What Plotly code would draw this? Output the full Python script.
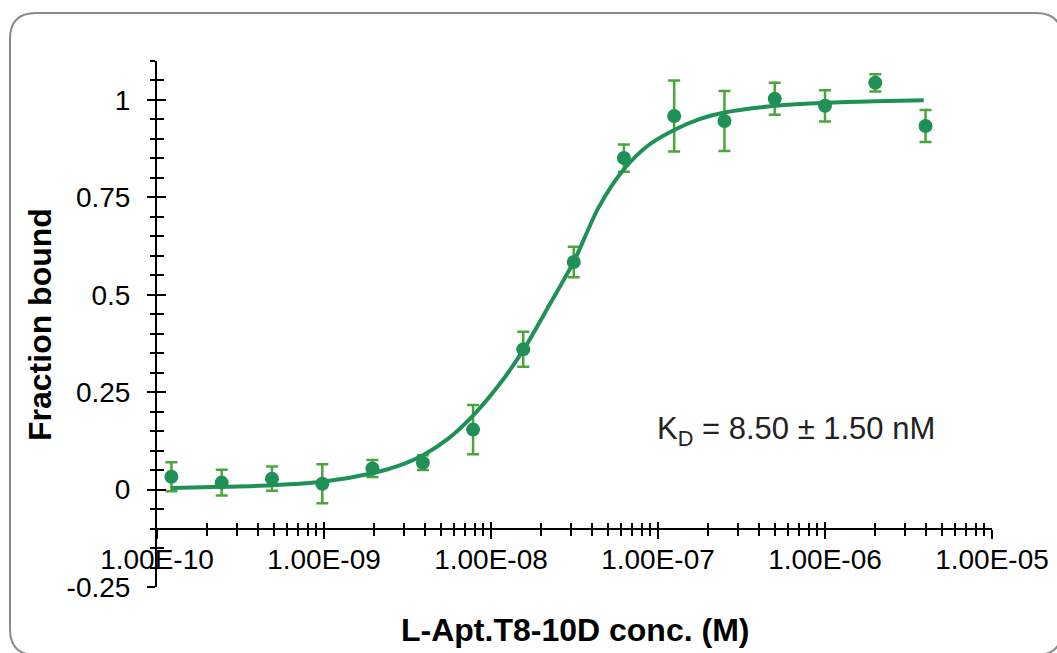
import plotly.graph_objects as go

# ---------------- data ----------------
conc_M = [1.22e-10, 2.44e-10, 4.88e-10, 9.77e-10, 1.95e-9, 3.91e-9, 7.81e-9, 1.56e-8,
          3.13e-8, 6.25e-8, 1.25e-7, 2.5e-7, 5.0e-7, 1.0e-6, 2.0e-6, 4.0e-6]
fraction_bound = [0.033, 0.018, 0.028, 0.015, 0.054, 0.069, 0.154, 0.360,
                  0.584, 0.851, 0.959, 0.946, 1.003, 0.985, 1.044, 0.933]
fraction_err = [0.037, 0.033, 0.031, 0.050, 0.022, 0.019, 0.063, 0.045,
                0.039, 0.035, 0.091, 0.077, 0.041, 0.040, 0.022, 0.041]

fit_conc_M = [1.22e-10, 2.44e-10, 4.88e-10, 9.77e-10, 1.95e-9, 2.76e-9, 3.91e-9, 5.52e-9,
              7.81e-9, 1.10e-8, 1.56e-8, 2.21e-8, 3.13e-8, 4.42e-8, 6.25e-8, 8.84e-8,
              1.25e-7, 1.77e-7, 2.5e-7, 5.0e-7, 1.0e-6, 2.0e-6, 3.9e-6]
fit_fraction = [0.004, 0.007, 0.011, 0.020, 0.042, 0.060, 0.088, 0.130,
                0.190, 0.265, 0.358, 0.470, 0.585, 0.725, 0.822, 0.885,
                0.923, 0.951, 0.968, 0.985, 0.993, 0.997, 0.999]

x_tick_vals = [1e-10, 1e-9, 1e-8, 1e-7, 1e-6, 1e-5]
x_tick_text = ["1.00E-10", "1.00E-09", "1.00E-08", "1.00E-07", "1.00E-06", "1.00E-05"]
x_minor_vals = [m * 10.0 ** e for e in range(-10, -5) for m in range(2, 10)]
y_tick_vals = [-0.25, 0, 0.25, 0.5, 0.75, 1]
y_tick_text = ["-0.25", "0", "0.25", "0.5", "0.75", "1"]

kd_label = "K<sub>D</sub> = 8.50 ± 1.50 nM"
x_title = "L-Apt.T8-10D conc. (M)"
y_title = "Fraction bound"

# ---------------- style / layout (page pixels) ----------------
FONT = "Arial, Liberation Sans, sans-serif"
POINT_COLOR = "#1f9157"
ERR_COLOR = "#4ca53a"
W, H = 1057, 653
AX_L, AX_R, AX_T, AX_B = 157, 992, 61, 587
PW, PH = AX_R - AX_L, AX_B - AX_T
ML, MT = AX_L, AX_T
MR, MB = W - ML - PW, H - MT - PH
Y_RANGE = [-0.25, 1.1]
X_AXIS_AT = -0.1
x_pos = (X_AXIS_AT - Y_RANGE[0]) / (Y_RANGE[1] - Y_RANGE[0])


def px_x(p):
    return (p - AX_L) / PW


def px_y(p):
    return (AX_B - p) / PH


fig = go.Figure()

fig.add_trace(go.Scatter(
    x=conc_M, y=fraction_bound, mode="markers",
    marker=dict(size=14, color=POINT_COLOR, line=dict(width=0)),
    error_y=dict(type="data", array=fraction_err, visible=True,
                 color=ERR_COLOR, thickness=2.5, width=6),
    showlegend=False, cliponaxis=False,
))

fig.add_trace(go.Scatter(
    x=fit_conc_M, y=fit_fraction, mode="lines",
    line=dict(color=POINT_COLOR, width=4, shape="spline", smoothing=0.8),
    showlegend=False, cliponaxis=False,
))

# helper trace for the overlay axes (inside half of the cross ticks)
fig.add_trace(go.Scatter(x=[], y=[], xaxis="x2", yaxis="y2", showlegend=False))

common_x = dict(type="log", range=[-10, -5], showgrid=False, zeroline=False,
                anchor="free", position=x_pos, automargin=False)
common_y = dict(range=Y_RANGE, showgrid=False, zeroline=False, anchor="x",
                automargin=False)

fig.update_layout(
    width=W, height=H, autosize=False,
    margin=dict(l=ML, r=MR, t=MT, b=MB, pad=0, autoexpand=False),
    paper_bgcolor="white", plot_bgcolor="white",
    font=dict(family=FONT, color="black"),
    xaxis=dict(**common_x,
               showline=True, linecolor="black", linewidth=2,
               tickmode="array", tickvals=x_tick_vals, ticktext=x_tick_text,
               ticks="outside", ticklen=9, tickwidth=2, tickcolor="black",
               tickfont=dict(size=28, family=FONT, color="black"),
               ticklabelstandoff=-3,
               minor=dict(tickmode="array", tickvals=x_minor_vals, ticks="outside",
                          ticklen=6, tickwidth=2, tickcolor="black")),
    xaxis2=dict(**common_x, overlaying="x",
                showline=False, showticklabels=False,
                tickmode="array", tickvals=x_tick_vals,
                ticks="inside", ticklen=7, tickwidth=2, tickcolor="black",
                minor=dict(tickmode="array", tickvals=x_minor_vals, ticks="inside",
                           ticklen=6, tickwidth=2, tickcolor="black")),
    yaxis=dict(**common_y,
               showline=True, linecolor="black", linewidth=2,
               tickmode="array", tickvals=y_tick_vals, ticktext=y_tick_text,
               ticks="outside", ticklen=8, tickwidth=2, tickcolor="black",
               tickfont=dict(size=28, family=FONT, color="black"),
               ticklabelstandoff=11,
               minor=dict(tick0=0, dtick=0.05, ticks="outside",
                          ticklen=5, tickwidth=2, tickcolor="black")),
    yaxis2=dict(**common_y, overlaying="y",
                showline=False, showticklabels=False,
                tickmode="array", tickvals=y_tick_vals,
                ticks="inside", ticklen=9, tickwidth=2, tickcolor="black",
                minor=dict(tick0=0, dtick=0.05, ticks="inside",
                           ticklen=7, tickwidth=2, tickcolor="black")),
)

# titles and K_D label
fig.add_annotation(text=y_title, xref="paper", yref="paper", x=0, xshift=40 - AX_L,
                   y=px_y(325), xanchor="center", yanchor="middle", textangle=-90,
                   showarrow=False, font=dict(size=32, family=FONT, weight="bold", color="black"))
fig.add_annotation(text=x_title, xref="paper", yref="paper", x=px_x(575), y=px_y(630),
                   xanchor="center", yanchor="middle", showarrow=False,
                   font=dict(size=32, family=FONT, weight="bold", color="black"))
fig.add_annotation(text=kd_label, xref="paper", yref="paper", x=px_x(655), y=px_y(431),
                   xanchor="left", yanchor="middle", showarrow=False,
                   font=dict(size=31, family=FONT, color="#222222"))

# rounded frame (page pixels)
L, T, R, B, r = 10, 13, 1062, 655, 26
pts = [("M", L + r, T), ("L", R - r, T), ("Q", R, T, R, T + r), ("L", R, B - r),
       ("Q", R, B, R - r, B), ("L", L + r, B), ("Q", L, B, L, B - r), ("L", L, T + r),
       ("Q", L, T, L + r, T)]
path = ""
for p in pts:
    cmd = p[0]
    coords = p[1:]
    seg = []
    for i in range(0, len(coords), 2):
        seg.append(f"{px_x(coords[i]):.5f},{px_y(coords[i + 1]):.5f}")
    path += cmd + " ".join(seg) + " "
path += "Z"
fig.add_shape(type="path", path=path, xref="paper", yref="paper",
              line=dict(color="#8a8a8a", width=2), layer="below")

fig.write_html(
    "out.html",
    config={"displayModeBar": False, "responsive": False},
    post_script="document.body.style.margin='0px';document.body.style.overflow='hidden';"
                "document.documentElement.style.overflow='hidden';",
)
